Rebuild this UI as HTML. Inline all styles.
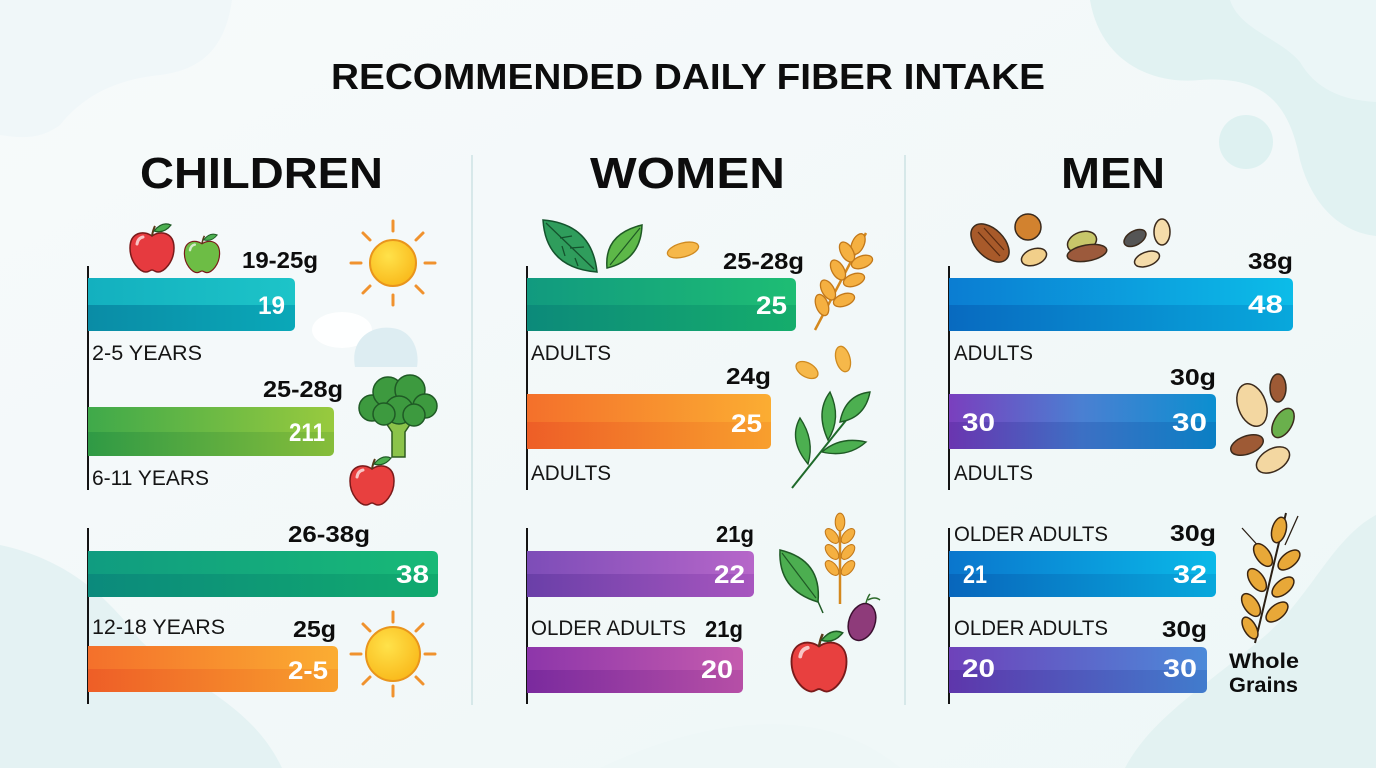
<!DOCTYPE html>
<html><head><meta charset="utf-8"><style>
html,body{margin:0;padding:0;width:1376px;height:768px;overflow:hidden;background:#f4f9fa}
svg{display:block}
.t{font-family:"Liberation Sans",sans-serif;font-weight:bold;fill:#0d0d0d}
.n{font-family:"Liberation Sans",sans-serif;font-weight:bold;fill:#fff}
.l{font-family:"Liberation Sans",sans-serif;fill:#151515}
.o{stroke:#3b2a1c;stroke-width:1.5}
</style></head><body>
<svg width="1376" height="768" viewBox="0 0 1376 768" xmlns="http://www.w3.org/2000/svg">
<defs>
<linearGradient id="bg" x1="0" y1="0" x2="1" y2="1"><stop offset="0" stop-color="#f7fafb"/><stop offset="1" stop-color="#eef7f7"/></linearGradient>
<linearGradient id="g1" x1="0" x2="1"><stop offset="0" stop-color="#13b0bf"/><stop offset="1" stop-color="#1dc4c8"/></linearGradient>
<linearGradient id="g1b" x1="0" x2="1"><stop offset="0" stop-color="#0a8ca6"/><stop offset="1" stop-color="#0aa8b8"/></linearGradient>
<linearGradient id="g2" x1="0" x2="1"><stop offset="0" stop-color="#3fa94a"/><stop offset="1" stop-color="#98ca3e"/></linearGradient>
<linearGradient id="g2b" x1="0" x2="1"><stop offset="0" stop-color="#2f9a45"/><stop offset="1" stop-color="#86bd3a"/></linearGradient>
<linearGradient id="g3" x1="0" x2="1"><stop offset="0" stop-color="#109c80"/><stop offset="1" stop-color="#18b977"/></linearGradient>
<linearGradient id="g3b" x1="0" x2="1"><stop offset="0" stop-color="#0b8a7c"/><stop offset="1" stop-color="#11aa6e"/></linearGradient>
<linearGradient id="g4" x1="0" x2="1"><stop offset="0" stop-color="#f4702b"/><stop offset="1" stop-color="#fbad32"/></linearGradient>
<linearGradient id="g4b" x1="0" x2="1"><stop offset="0" stop-color="#ee5e27"/><stop offset="1" stop-color="#f89f2d"/></linearGradient>
<linearGradient id="g5" x1="0" x2="1"><stop offset="0" stop-color="#119a7f"/><stop offset="1" stop-color="#1ebd74"/></linearGradient>
<linearGradient id="g5b" x1="0" x2="1"><stop offset="0" stop-color="#0c8a7a"/><stop offset="1" stop-color="#15ad6c"/></linearGradient>
<linearGradient id="g6" x1="0" x2="1"><stop offset="0" stop-color="#7d4db8"/><stop offset="1" stop-color="#b666c9"/></linearGradient>
<linearGradient id="g6b" x1="0" x2="1"><stop offset="0" stop-color="#6a3fa8"/><stop offset="1" stop-color="#a756bf"/></linearGradient>
<linearGradient id="g7" x1="0" x2="1"><stop offset="0" stop-color="#8d36aa"/><stop offset="1" stop-color="#c45bae"/></linearGradient>
<linearGradient id="g7b" x1="0" x2="1"><stop offset="0" stop-color="#7a2a9e"/><stop offset="1" stop-color="#b64fa6"/></linearGradient>
<linearGradient id="g8" x1="0" x2="1"><stop offset="0" stop-color="#0b7dd2"/><stop offset="1" stop-color="#0cbce8"/></linearGradient>
<linearGradient id="g8b" x1="0" x2="1"><stop offset="0" stop-color="#086ac0"/><stop offset="1" stop-color="#08a8dc"/></linearGradient>
<linearGradient id="g9" x1="0" x2="1"><stop offset="0" stop-color="#7a3fbe"/><stop offset="0.5" stop-color="#4a80d2"/><stop offset="1" stop-color="#0b8fd0"/></linearGradient>
<linearGradient id="g9b" x1="0" x2="1"><stop offset="0" stop-color="#6a35b0"/><stop offset="0.5" stop-color="#3c70c4"/><stop offset="1" stop-color="#0a7fc4"/></linearGradient>
<linearGradient id="g10" x1="0" x2="1"><stop offset="0" stop-color="#0a76cd"/><stop offset="1" stop-color="#0ab9e8"/></linearGradient>
<linearGradient id="g10b" x1="0" x2="1"><stop offset="0" stop-color="#0866bc"/><stop offset="1" stop-color="#08a8dc"/></linearGradient>
<linearGradient id="g11" x1="0" x2="1"><stop offset="0" stop-color="#6e42ba"/><stop offset="1" stop-color="#4c8ad9"/></linearGradient>
<linearGradient id="g11b" x1="0" x2="1"><stop offset="0" stop-color="#5e36ab"/><stop offset="1" stop-color="#417ccd"/></linearGradient>
<radialGradient id="sun" cx="0.4" cy="0.35" r="0.7"><stop offset="0" stop-color="#ffe24a"/><stop offset="1" stop-color="#f9b81a"/></radialGradient>
<g id="apple"><path d="M0,-14 C-8,-20 -22,-18 -22,-2 C-22,12 -12,22 -6,22 C-3,22 -2,20 0,20 C2,20 3,22 6,22 C12,22 22,12 22,-2 C22,-18 8,-20 0,-14 Z" stroke="#7a1a1a" stroke-width="1.5"/><path d="M0,-14 Q1,-20 3,-24" stroke="#5a3a1a" stroke-width="2" fill="none"/><path d="M2,-19 Q10,-29 19,-25 Q12,-16 2,-19 Z" fill="#4caf50" stroke="#1f5a25" stroke-width="1.2"/><path d="M-15,-6 Q-14,-12 -9,-13" stroke="#fff" stroke-opacity="0.7" stroke-width="3" fill="none" stroke-linecap="round"/></g>
<g id="rays" stroke="#f0922e" stroke-width="3" stroke-linecap="round"><line x1="0" y1="-32" x2="0" y2="-42"/><line x1="0" y1="32" x2="0" y2="42"/><line x1="-32" y1="0" x2="-42" y2="0"/><line x1="32" y1="0" x2="42" y2="0"/><line x1="23" y1="-23" x2="30" y2="-30"/><line x1="-23" y1="-23" x2="-30" y2="-30"/><line x1="23" y1="23" x2="30" y2="30"/><line x1="-23" y1="23" x2="-30" y2="30"/></g>
<g id="grain"><ellipse cx="0" cy="0" rx="6" ry="11" stroke="#c2781a" stroke-width="1.3"/></g>
</defs>
<rect width="1376" height="768" fill="url(#bg)"/>
<!-- background blobs -->
<path d="M0,0 L232,0 C225,50 200,70 160,75 C110,80 80,100 60,125 C40,140 20,138 0,135 Z" fill="#f0f7f9"/>
<path d="M1090,0 C1100,60 1150,85 1200,80 C1270,75 1290,110 1300,160 C1312,205 1340,232 1376,236 L1376,0 Z" fill="#e1f2f2"/>
<path d="M1230,0 C1240,30 1280,38 1300,62 C1315,88 1340,100 1376,102 L1376,0 Z" fill="#ebf6f7"/>
<circle cx="1246" cy="142" r="27" fill="#def1f1"/>
<path d="M0,545 C70,560 110,600 140,640 C180,680 250,700 282,768 L0,768 Z" fill="#e4f2f3"/>
<path d="M1376,515 C1330,540 1310,600 1260,640 C1200,690 1150,720 1125,768 L1376,768 Z" fill="#e3f2f2"/>
<path d="M600,768 C700,720 820,700 900,768 Z" fill="#eef7f7"/>

<!-- title -->
<text class="t" x="331" y="89" font-size="36" textLength="714" lengthAdjust="spacingAndGlyphs">RECOMMENDED DAILY FIBER INTAKE</text>
<text class="t" x="140" y="188" font-size="44" textLength="243" lengthAdjust="spacingAndGlyphs">CHILDREN</text>
<text class="t" x="590" y="188" font-size="44" textLength="195" lengthAdjust="spacingAndGlyphs">WOMEN</text>
<text class="t" x="1061" y="188" font-size="44" textLength="104" lengthAdjust="spacingAndGlyphs">MEN</text>

<!-- dividers -->
<line x1="472" y1="155" x2="472" y2="705" stroke="#cde3e4" stroke-width="1.5"/>
<line x1="905" y1="155" x2="905" y2="705" stroke="#cde3e4" stroke-width="1.5"/>

<!-- axes -->
<g stroke="#141414" stroke-width="2">
<line x1="88" y1="266" x2="88" y2="490"/><line x1="88" y1="528" x2="88" y2="704"/>
<line x1="527" y1="266" x2="527" y2="490"/><line x1="527" y1="528" x2="527" y2="704"/>
<line x1="949" y1="266" x2="949" y2="490"/><line x1="949" y1="528" x2="949" y2="704"/>
</g>

<!-- cloud -->
<ellipse cx="342" cy="330" rx="30" ry="18" fill="#ffffff" opacity="0.9"/>
<path d="M355,367 C350,340 370,325 392,328 C412,330 420,350 417,367 Z" fill="#ddedf2"/>

<!-- CHILDREN bars -->
<path d="M88,278 H289 Q295,278 295,284 V325 Q295,331 289,331 H88 Z" fill="url(#g1)"/>
<path d="M88,305 H295 V325 Q295,331 289,331 H88 Z" fill="url(#g1b)"/>
<path d="M88,407 H328 Q334,407 334,413 V450 Q334,456 328,456 H88 Z" fill="url(#g2)"/>
<path d="M88,432 H334 V450 Q334,456 328,456 H88 Z" fill="url(#g2b)"/>
<path d="M88,551 H432 Q438,551 438,557 V591 Q438,597 432,597 H88 Z" fill="url(#g3)"/>
<path d="M88,574 H438 V591 Q438,597 432,597 H88 Z" fill="url(#g3b)"/>
<path d="M88,646 H332 Q338,646 338,652 V686 Q338,692 332,692 H88 Z" fill="url(#g4)"/>
<path d="M88,669 H338 V686 Q338,692 332,692 H88 Z" fill="url(#g4b)"/>

<text class="t" x="242" y="268" font-size="23" textLength="76" lengthAdjust="spacingAndGlyphs">19-25g</text>
<text class="n" x="258" y="314" font-size="25" textLength="27" lengthAdjust="spacingAndGlyphs">19</text>
<text class="l" x="92" y="360" font-size="21" textLength="110" lengthAdjust="spacingAndGlyphs">2-5 YEARS</text>
<text class="t" x="263" y="397" font-size="23" textLength="80" lengthAdjust="spacingAndGlyphs">25-28g</text>
<text class="n" x="289" y="441" font-size="25" textLength="36" lengthAdjust="spacingAndGlyphs">211</text>
<text class="l" x="92" y="485" font-size="21" textLength="117" lengthAdjust="spacingAndGlyphs">6-11 YEARS</text>
<text class="t" x="288" y="542" font-size="23" textLength="82" lengthAdjust="spacingAndGlyphs">26-38g</text>
<text class="n" x="396" y="583" font-size="25" textLength="33" lengthAdjust="spacingAndGlyphs">38</text>
<text class="l" x="92" y="634" font-size="21" textLength="133" lengthAdjust="spacingAndGlyphs">12-18 YEARS</text>
<text class="t" x="293" y="637" font-size="23" textLength="43" lengthAdjust="spacingAndGlyphs">25g</text>
<text class="n" x="288" y="679" font-size="25" textLength="40" lengthAdjust="spacingAndGlyphs">2-5</text>

<!-- children icons -->
<use href="#apple" transform="translate(152,250)" fill="#e63a3f"/>
<use href="#apple" transform="translate(202,255) scale(0.8)" fill="#6dbd45"/>
<use href="#apple" transform="translate(372,483)" fill="#e8403f"/>
<g transform="translate(393,263)"><use href="#rays"/><circle r="23" fill="url(#sun)" stroke="#e9951c" stroke-width="2"/></g>
<g transform="translate(393,654)"><use href="#rays"/><circle r="27" fill="url(#sun)" stroke="#e9951c" stroke-width="2"/></g>
<path d="M384,420 L392,432 L392,457 L405,457 L405,432 L413,420 Z" fill="#8bc34a" stroke="#2d5a20" stroke-width="1.5"/>
<g fill="#3d9a3f" stroke="#1f5a25" stroke-width="1.5">
<circle cx="372" cy="408" r="13"/><circle cx="388" cy="392" r="15"/><circle cx="410" cy="390" r="15"/><circle cx="425" cy="406" r="12"/><circle cx="399" cy="410" r="14"/><circle cx="384" cy="414" r="11"/><circle cx="414" cy="415" r="11"/>
</g>

<!-- WOMEN bars -->
<path d="M527,278 H790 Q796,278 796,284 V325 Q796,331 790,331 H527 Z" fill="url(#g5)"/>
<path d="M527,305 H796 V325 Q796,331 790,331 H527 Z" fill="url(#g5b)"/>
<path d="M527,394 H765 Q771,394 771,400 V443 Q771,449 765,449 H527 Z" fill="url(#g4)"/>
<path d="M527,422 H771 V443 Q771,449 765,449 H527 Z" fill="url(#g4b)"/>
<path d="M527,551 H748 Q754,551 754,557 V591 Q754,597 748,597 H527 Z" fill="url(#g6)"/>
<path d="M527,574 H754 V591 Q754,597 748,597 H527 Z" fill="url(#g6b)"/>
<path d="M527,647 H737 Q743,647 743,653 V687 Q743,693 737,693 H527 Z" fill="url(#g7)"/>
<path d="M527,670 H743 V687 Q743,693 737,693 H527 Z" fill="url(#g7b)"/>

<text class="t" x="723" y="269" font-size="23" textLength="81" lengthAdjust="spacingAndGlyphs">25-28g</text>
<text class="n" x="756" y="314" font-size="25" textLength="31" lengthAdjust="spacingAndGlyphs">25</text>
<text class="l" x="531" y="360" font-size="21" textLength="80" lengthAdjust="spacingAndGlyphs">ADULTS</text>
<text class="t" x="726" y="384" font-size="23" textLength="45" lengthAdjust="spacingAndGlyphs">24g</text>
<text class="n" x="731" y="432" font-size="25" textLength="31" lengthAdjust="spacingAndGlyphs">25</text>
<text class="l" x="531" y="480" font-size="21" textLength="80" lengthAdjust="spacingAndGlyphs">ADULTS</text>
<text class="t" x="716" y="542" font-size="23" textLength="38" lengthAdjust="spacingAndGlyphs">21g</text>
<text class="n" x="714" y="583" font-size="25" textLength="31" lengthAdjust="spacingAndGlyphs">22</text>
<text class="l" x="531" y="635" font-size="21" textLength="155" lengthAdjust="spacingAndGlyphs">OLDER ADULTS</text>
<text class="t" x="705" y="637" font-size="23" textLength="38" lengthAdjust="spacingAndGlyphs">21g</text>
<text class="n" x="701" y="678" font-size="25" textLength="32" lengthAdjust="spacingAndGlyphs">20</text>

<!-- women icons -->
<path d="M543,220 Q592,224 597,272 Q546,268 543,220 Z" fill="#2f9d5c" stroke="#14532d" stroke-width="1.5"/>
<path d="M546,223 L594,269 M560,238 L572,236 M570,248 L584,247 M562,246 L565,256 M575,258 L578,266" stroke="#14532d" stroke-width="1.3" fill="none"/>
<path d="M642,225 Q641,260 607,268 Q604,234 642,225 Z" fill="#5db848" stroke="#1f5a25" stroke-width="1.5"/>
<path d="M640,228 L610,265" stroke="#1f5a25" stroke-width="1.2"/>
<ellipse cx="683" cy="250" rx="16" ry="7" transform="rotate(-15 683 250)" fill="#f6b84a" stroke="#cf8a20" stroke-width="1.3"/>
<g fill="#f5b041">
<path d="M815,330 L866,233" stroke="#d4881e" stroke-width="2.5"/>
<use href="#grain" transform="translate(858,244) rotate(25)"/>
<use href="#grain" transform="translate(847,252) rotate(-30)"/><use href="#grain" transform="translate(862,262) rotate(70)"/>
<use href="#grain" transform="translate(838,270) rotate(-30)"/><use href="#grain" transform="translate(854,280) rotate(70)"/>
<use href="#grain" transform="translate(828,290) rotate(-30)"/><use href="#grain" transform="translate(844,300) rotate(70)"/>
<use href="#grain" transform="translate(822,305) rotate(-20)"/>
</g>
<ellipse cx="807" cy="370" rx="12" ry="7" transform="rotate(30 807 370)" fill="#f6b84a" stroke="#cf8a20" stroke-width="1.3"/>
<ellipse cx="843" cy="359" rx="7" ry="13" transform="rotate(-15 843 359)" fill="#f6b84a" stroke="#cf8a20" stroke-width="1.3"/>
<path d="M792,488 Q830,440 868,393" stroke="#1f6a2a" stroke-width="2" fill="none"/>
<g fill="#4caf50" stroke="#1f5a25" stroke-width="1.4">
<path d="M808,464 Q788,440 800,418 Q815,440 808,464 Z"/>
<path d="M828,440 Q815,412 830,392 Q842,418 828,440 Z"/>
<path d="M840,422 Q845,395 870,392 Q865,418 840,422 Z"/>
<path d="M822,452 Q840,436 866,442 Q848,458 822,452 Z"/>
</g>
<path d="M823,613 L813,590" stroke="#1f5a25" stroke-width="1.5"/>
<path d="M780,550 Q822,560 818,602 Q778,590 780,550 Z" fill="#4cae50" stroke="#1f5a25" stroke-width="1.5"/>
<path d="M782,553 L816,598" stroke="#1f5a25" stroke-width="1.2"/>
<g fill="#f5b041">
<path d="M840,520 L840,604" stroke="#d4881e" stroke-width="2.5"/>
<use href="#grain" transform="translate(840,522) scale(0.8)"/>
<use href="#grain" transform="translate(832,536) rotate(-40) scale(0.8)"/><use href="#grain" transform="translate(848,536) rotate(40) scale(0.8)"/>
<use href="#grain" transform="translate(832,552) rotate(-40) scale(0.8)"/><use href="#grain" transform="translate(848,552) rotate(40) scale(0.8)"/>
<use href="#grain" transform="translate(832,568) rotate(-40) scale(0.8)"/><use href="#grain" transform="translate(848,568) rotate(40) scale(0.8)"/>
</g>
<ellipse cx="862" cy="622" rx="13" ry="19" transform="rotate(20 862 622)" fill="#8e3b7a" stroke="#3b1030" stroke-width="1.5"/>
<path d="M866,603 Q868,596 870,594 M868,600 Q875,596 880,600" stroke="#2d6a2a" stroke-width="1.5" fill="none"/>
<use href="#apple" transform="translate(819,664) scale(1.25)" fill="#e8403f"/>

<!-- MEN bars -->
<path d="M949,278 H1287 Q1293,278 1293,284 V325 Q1293,331 1287,331 H949 Z" fill="url(#g8)"/>
<path d="M949,305 H1293 V325 Q1293,331 1287,331 H949 Z" fill="url(#g8b)"/>
<path d="M949,394 H1210 Q1216,394 1216,400 V443 Q1216,449 1210,449 H949 Z" fill="url(#g9)"/>
<path d="M949,422 H1216 V443 Q1216,449 1210,449 H949 Z" fill="url(#g9b)"/>
<path d="M949,551 H1210 Q1216,551 1216,557 V591 Q1216,597 1210,597 H949 Z" fill="url(#g10)"/>
<path d="M949,574 H1216 V591 Q1216,597 1210,597 H949 Z" fill="url(#g10b)"/>
<path d="M949,647 H1201 Q1207,647 1207,653 V687 Q1207,693 1201,693 H949 Z" fill="url(#g11)"/>
<path d="M949,670 H1207 V687 Q1207,693 1201,693 H949 Z" fill="url(#g11b)"/>

<text class="t" x="1248" y="269" font-size="23" textLength="45" lengthAdjust="spacingAndGlyphs">38g</text>
<text class="n" x="1248" y="313" font-size="25" textLength="35" lengthAdjust="spacingAndGlyphs">48</text>
<text class="l" x="954" y="360" font-size="21" textLength="79" lengthAdjust="spacingAndGlyphs">ADULTS</text>
<text class="t" x="1170" y="385" font-size="23" textLength="46" lengthAdjust="spacingAndGlyphs">30g</text>
<text class="n" x="962" y="431" font-size="25" textLength="33" lengthAdjust="spacingAndGlyphs">30</text>
<text class="n" x="1172" y="431" font-size="25" textLength="35" lengthAdjust="spacingAndGlyphs">30</text>
<text class="l" x="954" y="480" font-size="21" textLength="79" lengthAdjust="spacingAndGlyphs">ADULTS</text>
<text class="l" x="954" y="541" font-size="21" textLength="154" lengthAdjust="spacingAndGlyphs">OLDER ADULTS</text>
<text class="t" x="1170" y="541" font-size="23" textLength="46" lengthAdjust="spacingAndGlyphs">30g</text>
<text class="n" x="963" y="583" font-size="25" textLength="24" lengthAdjust="spacingAndGlyphs">21</text>
<text class="n" x="1173" y="583" font-size="25" textLength="34" lengthAdjust="spacingAndGlyphs">32</text>
<text class="l" x="954" y="635" font-size="21" textLength="154" lengthAdjust="spacingAndGlyphs">OLDER ADULTS</text>
<text class="t" x="1162" y="637" font-size="23" textLength="45" lengthAdjust="spacingAndGlyphs">30g</text>
<text class="n" x="962" y="677" font-size="25" textLength="33" lengthAdjust="spacingAndGlyphs">20</text>
<text class="n" x="1163" y="677" font-size="25" textLength="34" lengthAdjust="spacingAndGlyphs">30</text>
<text class="t" x="1229" y="668" font-size="21" textLength="70" lengthAdjust="spacingAndGlyphs">Whole</text>
<text class="t" x="1229" y="692" font-size="21" textLength="69" lengthAdjust="spacingAndGlyphs">Grains</text>

<!-- men icons -->
<g class="o">
<ellipse cx="990" cy="243" rx="23" ry="14" transform="rotate(45 990 243)" fill="#a85a2a"/>
<path d="M978,232 L1000,256 M984,228 L1004,250" stroke="#5a2a10" stroke-width="1.2" fill="none"/>
<circle cx="1028" cy="227" r="13" fill="#d2822f"/>
<ellipse cx="1034" cy="257" rx="13" ry="8" transform="rotate(-20 1034 257)" fill="#f1cf8a"/>
<ellipse cx="1082" cy="242" rx="15" ry="10" transform="rotate(-20 1082 242)" fill="#c8c76a"/>
<ellipse cx="1087" cy="253" rx="20" ry="8" transform="rotate(-10 1087 253)" fill="#9c5a3c"/>
<ellipse cx="1135" cy="238" rx="12" ry="7" transform="rotate(-30 1135 238)" fill="#555"/>
<ellipse cx="1162" cy="232" rx="8" ry="13" fill="#f5dcaa"/>
<ellipse cx="1147" cy="259" rx="13" ry="7" transform="rotate(-20 1147 259)" fill="#f5dcaa"/>
<ellipse cx="1252" cy="405" rx="14" ry="22" transform="rotate(-20 1252 405)" fill="#f3d7a1"/>
<ellipse cx="1278" cy="388" rx="8" ry="14" fill="#9e5a35"/>
<ellipse cx="1283" cy="423" rx="9" ry="16" transform="rotate(30 1283 423)" fill="#6ab04c"/>
<ellipse cx="1247" cy="445" rx="17" ry="9" transform="rotate(-20 1247 445)" fill="#9e5a35"/>
<ellipse cx="1273" cy="460" rx="18" ry="11" transform="rotate(-30 1273 460)" fill="#f3d7a1"/>
</g>
<g fill="#e8a838">
<path d="M1255,643 L1286,513" stroke="#2b2015" stroke-width="2"/>
<path d="M1262,550 L1242,528 M1285,545 L1298,516" stroke="#2b2015" stroke-width="1.3"/>
<g stroke="#3a2410" stroke-width="1.5">
<ellipse cx="1279" cy="530" rx="7" ry="13" transform="rotate(15 1279 530)"/>
<ellipse cx="1263" cy="555" rx="7" ry="13" transform="rotate(-35 1263 555)"/><ellipse cx="1289" cy="560" rx="7" ry="13" transform="rotate(50 1289 560)"/>
<ellipse cx="1257" cy="580" rx="7" ry="13" transform="rotate(-35 1257 580)"/><ellipse cx="1283" cy="587" rx="7" ry="13" transform="rotate(50 1283 587)"/>
<ellipse cx="1251" cy="605" rx="7" ry="13" transform="rotate(-35 1251 605)"/><ellipse cx="1277" cy="612" rx="7" ry="13" transform="rotate(50 1277 612)"/>
<ellipse cx="1250" cy="628" rx="6" ry="12" transform="rotate(-30 1250 628)"/>
</g></g>
</svg>
</body></html>
